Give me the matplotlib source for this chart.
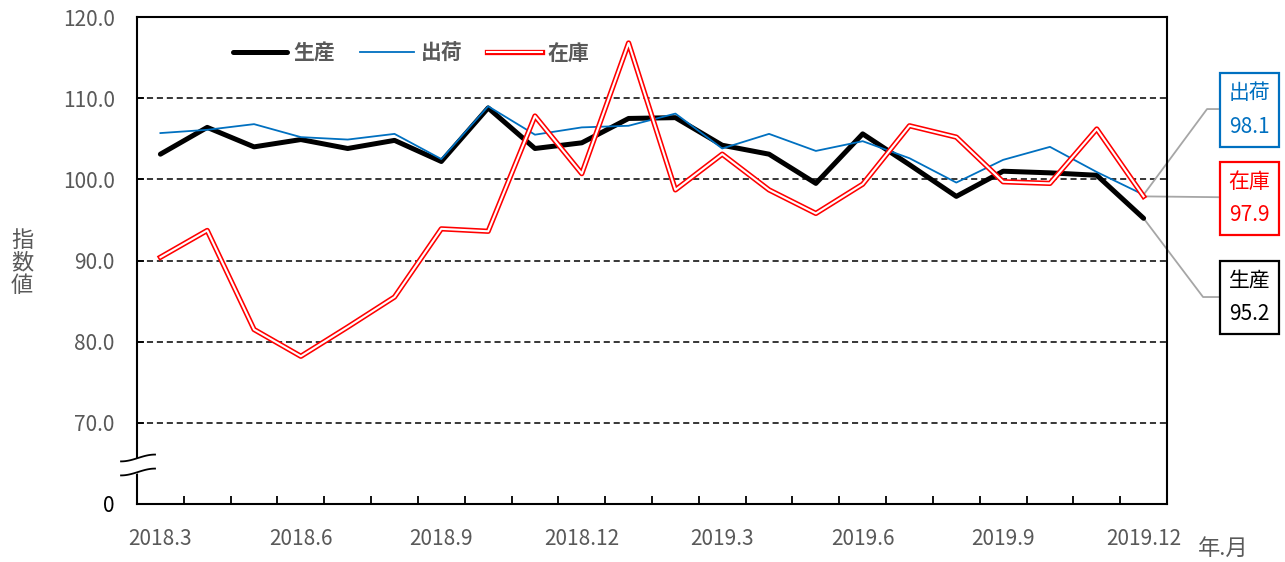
import numpy as np
import matplotlib
matplotlib.use('Agg')
import matplotlib.pyplot as plt
from matplotlib.ticker import FixedLocator

plt.rcParams['font.family'] = ['Noto Sans CJK JP', 'DejaVu Sans']

months = ['2018.3', '2018.4', '2018.5', '2018.6', '2018.7', '2018.8', '2018.9',
          '2018.10', '2018.11', '2018.12', '2019.1', '2019.2', '2019.3', '2019.4',
          '2019.5', '2019.6', '2019.7', '2019.8', '2019.9', '2019.10', '2019.11',
          '2019.12']
seisan = [103.1, 106.4, 104.0, 104.9, 103.8, 104.8, 102.2, 108.8, 103.8, 104.5, 107.5,
          107.6, 104.2, 103.1, 99.5, 105.6, 101.8, 97.9, 101.0, 100.8, 100.5, 95.2]
shukka = [105.7, 106.1, 106.8, 105.2, 104.9, 105.6, 102.5, 109.0, 105.5, 106.4, 106.6,
          108.1, 103.8, 105.6, 103.5, 104.7, 102.6, 99.6, 102.4, 104.0, 100.9, 98.1]
zaiko = [90.4, 93.7, 81.5, 78.2, 81.8, 85.5, 93.9, 93.6, 107.8, 100.7, 116.8,
         98.7, 103.1, 98.7, 95.8, 99.4, 106.6, 105.2, 99.7, 99.5, 106.2, 97.9]
names = ['生産', '出荷', '在庫']
yticks = [60, 70, 80, 90, 100, 110, 120]
ytick_labels = ['0', '70.0', '80.0', '90.0', '100.0', '110.0', '120.0']

GREY = '#595959'
BLUE = '#0070C0'
RED = '#FF0000'

fig = plt.figure(figsize=(12.85, 5.62), dpi=100)
ax = fig.add_axes([137/1285, 1 - 504/562, 1030/1285, 487/562])

x = np.arange(len(months))
l_s, = ax.plot(x, seisan, color='black', lw=3.6, solid_capstyle='round', zorder=3)
l_b, = ax.plot(x, shukka, color=BLUE, lw=1.3, zorder=4)
l_r1, = ax.plot(x, zaiko, color=RED, lw=3.8, zorder=5)
l_r2, = ax.plot(x, zaiko, color='white', lw=1.5, zorder=6)

ax.set_xlim(-0.5, len(months) - 0.5)
ax.set_ylim(60, 120)

for y in yticks[1:]:
    ax.axhline(y, color='black', lw=1.1, ls=(0, (4, 2.5)), zorder=1)

for s in ax.spines.values():
    s.set_color('black')
    s.set_linewidth(1.5)

ax.xaxis.set_major_locator(FixedLocator(x[::3]))
ax.set_xticklabels(months[::3])
ax.xaxis.set_minor_locator(FixedLocator(np.arange(-0.5, len(months), 1.0)))
ax.tick_params(axis='x', which='major', length=0, pad=17, labelsize=15, labelcolor=GREY)
ax.tick_params(axis='x', which='minor', direction='in', length=6, width=1.3)

ax.set_yticks(yticks)
ax.set_yticklabels(ytick_labels)
ax.tick_params(axis='y', direction='in', length=5, width=1.3, pad=16, labelsize=15,
               labelcolor=GREY)
ax.get_yticklabels()[0].set_color('black')

# break mark on y axis
t = np.linspace(0, 1, 40)
bx = -0.0155 + t * 0.033
wave = 0.007 * np.sin(np.pi * (t - 0.5))
ax.fill_between(bx, 0.0657 + wave, 0.0945 + wave, color='white', transform=ax.transAxes,
                clip_on=False, zorder=10)
for yb in (0.0657, 0.0945):
    ax.plot(bx, yb + wave, color='black', lw=1.3, transform=ax.transAxes, clip_on=False,
            zorder=11)

# legend
leg = ax.legend([l_s, l_b, (l_r1, l_r2)], names, loc='center left',
                bbox_to_anchor=(0.075, 0.926), ncol=3, frameon=False, handlelength=2.6,
                handletextpad=0.3, columnspacing=1.2,
                prop={'size': 15, 'weight': 'bold'}, labelcolor=GREY)

# callouts
last = len(months) - 1
bx_c = 23.26
callouts = [(names[1], shukka[-1], BLUE, 108.54, [(22.355, 108.66), (22.59, 108.66)]),
            (names[2], zaiko[-1], RED, 97.64, [(22.59, 97.8)]),
            (names[0], seisan[-1], 'black', 85.44, [(22.27, 85.5), (22.59, 85.5)])]
for name, val, col, yc, pts in callouts:
    xs = [last] + [p[0] for p in pts]
    ys = [val] + [p[1] for p in pts]
    ax.plot(xs, ys, color='#A6A6A6', lw=1.3, clip_on=False, zorder=2)
    ax.text(bx_c, yc, f'{name}\n{val:.1f}', color=col, fontsize=15, ha='center', va='center',
            linespacing=1.7, clip_on=False,
            bbox=dict(boxstyle='square,pad=0.42', fc='white', ec=col, lw=1.6))

fig.text(22/1285, 1 - 263/562, '指\n数\n値', color=GREY, fontsize=16, ha='center',
         va='center', linespacing=1.0)
fig.text(1223/1285, 1 - 548/562, '年.月', color=GREY, fontsize=16, ha='center', va='center')

fig.savefig('out.png', dpi=100)
